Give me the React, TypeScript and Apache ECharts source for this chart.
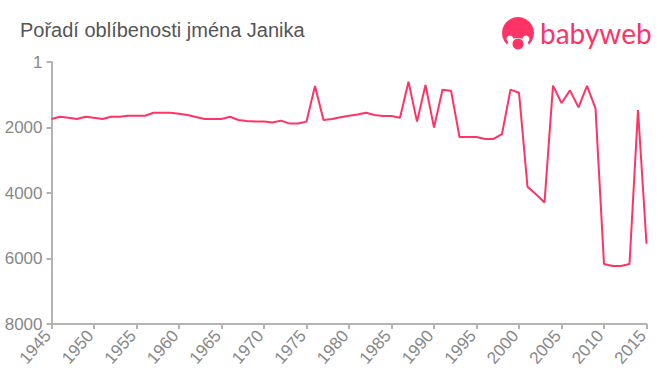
import React, { useEffect, useRef } from "react";
import * as echarts from "echarts";

const years = [1945,1946,1947,1948,1949,1950,1951,1952,1953,1954,1955,1956,1957,1958,1959,1960,1961,1962,1963,1964,1965,1966,1967,1968,1969,1970,1971,1972,1973,1974,1975,1976,1977,1978,1979,1980,1981,1982,1983,1984,1985,1986,1987,1988,1989,1990,1991,1992,1993,1994,1995,1996,1997,1998,1999,2000,2001,2002,2003,2004,2005,2006,2007,2008,2009,2010,2011,2012,2013,2014,2015];
const ranks = [1740,1670,1700,1740,1670,1700,1740,1670,1670,1640,1640,1640,1550,1550,1550,1580,1620,1680,1740,1740,1740,1670,1770,1800,1820,1820,1850,1790,1880,1880,1820,733,1770,1740,1690,1640,1600,1550,1620,1650,1650,1700,600,1820,700,2000,845,875,2290,2290,2290,2350,2350,2200,845,937,3810,4040,4290,720,1250,865,1385,730,1415,6170,6230,6230,6170,1465,5550];
const title = "Pořadí oblíbenosti jména Janika";
const brand = "babyweb";
const PINK = "#ff3366";

export default function App() {
  const ref = useRef<HTMLDivElement>(null);
  useEffect(() => {
    const chart = echarts.init(ref.current!, undefined, { renderer: "svg" });
    chart.setOption({
      animation: false,
      backgroundColor: "#fff",
      grid: { left: 51.5, right: 13.5, top: 62, bottom: 51 },
      xAxis: {
        type: "value", min: 1945, max: 2015, interval: 5,
        axisLine: { show: true, onZero: false, lineStyle: { color: "#b3b3b3", width: 2 } },
        axisTick: { show: true, length: 5, lineStyle: { color: "#b3b3b3", width: 2 } },
        splitLine: { show: false },
        axisLabel: { rotate: 49, align: "right", verticalAlign: "bottom", lineHeight: 10, color: "#888", fontSize: 17, fontFamily: "Liberation Sans", margin: 12, formatter: (v: number) => String(v), hideOverlap: false, showMinLabel: true, showMaxLabel: true },
      },
      yAxis: {
        type: "value", inverse: true, min: 0, max: 8000, interval: 2000,
        axisLine: { show: true, onZero: false, lineStyle: { color: "#b3b3b3", width: 2 } },
        axisTick: { show: true, length: 5, lineStyle: { color: "#b3b3b3", width: 2 } },
        splitLine: { show: false },
        axisLabel: { color: "#888", fontSize: 17, fontFamily: "Liberation Sans", margin: 9, formatter: (v: number) => (v === 0 ? "1" : String(v)) },
      },
      series: [{
        type: "line", data: years.map((y, i) => [y, ranks[i]]), showSymbol: false, smooth: false,
        lineStyle: { color: PINK, width: 2 }, itemStyle: { color: PINK },
      }],
      graphic: [
        { type: "text", x: 20, y: 20, style: { text: title, fill: "#555", font: "20px 'Liberation Sans'" } },
        { type: "circle", shape: { cx: 518, cy: 33, r: 16 }, style: { fill: PINK } },
        { type: "ellipse", shape: { cx: 518, cy: 46, rx: 11, ry: 8 }, style: { fill: "#fff" } },
        { type: "circle", shape: { cx: 510, cy: 39, r: 3.5 }, style: { fill: "#fff" } },
        { type: "circle", shape: { cx: 526, cy: 39, r: 3.5 }, style: { fill: "#fff" } },
        { type: "rect", shape: { x: 500, y: 49, width: 36, height: 3 }, style: { fill: "#fff" } },
        { type: "circle", shape: { cx: 518, cy: 44, r: 5.5 }, style: { fill: PINK } },
        { type: "text", x: 540, y: 19, style: { text: brand, fill: PINK, font: "28px 'Lato'" } },
      ],
    });
    return () => chart.dispose();
  }, []);
  return <div ref={ref} style={{ width: 660, height: 375, position: "absolute", left: 0, top: 0 }} />;
}
